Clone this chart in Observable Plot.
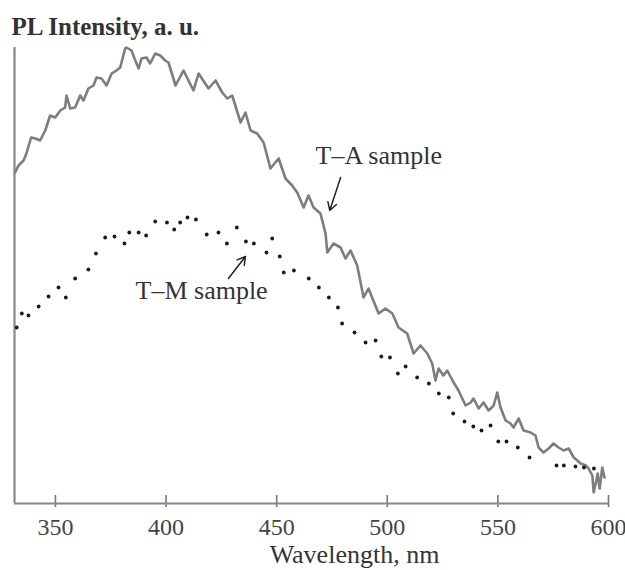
<!DOCTYPE html>
<html>
<head>
<meta charset="utf-8">
<script src="https://cdn.jsdelivr.net/npm/d3@7"></script>
<script src="https://cdn.jsdelivr.net/npm/@observablehq/plot@0.6"></script>
<style>
  html, body { margin: 0; padding: 0; background: #fff; }
  #chart { width: 625px; height: 570px; }
</style>
</head>
<body>
<div id="chart"></div>
<script>
// ---- data ----
const titleText = "PL Intensity, a. u.";
const xLabelText = "Wavelength, nm";
const xTicks = [350, 400, 450, 500, 550, 600];

// T–A sample (solid line)
const taWave = [331.8,333.3,335.6,336.9,339.0,340.9,343.1,345.4,347.6,349.9,352.2,354.4,355.0,356.7,358.9,361.2,362.7,364.9,367.2,368.6,370.8,373.1,375.4,377.6,379.3,381.5,382.1,384.4,386.1,387.6,388.9,391.2,392.8,395.1,397.4,399.6,401.1,404.3,407.9,412.4,414.7,419.2,422.4,425.4,427.7,429.9,433.7,435.9,438.2,441.2,444.1,447.2,450.9,454.0,457.0,459.3,462.2,464.4,466.7,469.8,472.1,472.9,475.7,478.9,481.1,483.4,486.4,489.3,491.5,496.1,499.2,502.3,505.1,509.0,511.9,515.0,518.1,520.3,521.8,523.2,525.4,527.1,530.0,532.2,535.4,537.7,539.0,541.3,543.5,545.8,548.1,549.7,551.2,553.5,555.7,557.1,559.4,561.6,564.8,567.0,568.4,570.6,572.9,575.2,577.4,579.7,582.0,584.3,585.9,587.4,589.7,591.0,592.7,593.3,594.5,595.1,596.0,597.2,598.2];
const taInt = [331,338,343,350,366,365,363,373,388,386,393,396,408,395,396,408,403,415,418,426,425,418,430,433,436,455,456,453,443,435,445,446,440,450,448,443,441,418,433,413,430,415,423,411,405,408,381,391,373,370,361,335,345,325,318,311,296,308,296,290,270,251,260,256,245,253,238,206,215,190,195,190,176,170,150,158,150,140,123,135,128,133,121,113,98,101,105,95,101,93,98,111,96,83,80,76,85,73,71,68,56,51,55,60,56,53,55,46,43,40,38,35,28,11,23,30,15,36,26];

// T–M sample (dotted)
const tmWave = [332.5,334.8,337.8,342.4,346.9,351.4,354.7,358.9,364.9,368.3,372.5,376.7,381.2,383.4,387.6,391.0,395.1,400.4,403.7,406.4,409.7,413.5,418.4,423.7,427.5,432.0,436.1,439.7,445.4,448.0,451.4,453.2,457.8,464.5,469.1,473.6,477.7,479.6,485.2,490.2,494.7,497.3,501.2,504.8,508.3,513.5,518.8,523.3,527.8,529.8,534.9,538.9,542.6,546.7,550.2,553.9,559.0,564.3,576.5,579.8,585.1,588.9,593.4];
const tmInt = [176,190,188,197,207,216,206,225,234,250,266,267,260,271,271,268,282,281,274,281,286,284,269,271,260,276,262,260,251,265,247,231,233,225,216,206,196,180,171,161,163,147,146,130,137,126,120,110,106,90,82,77,73,78,62,62,56,46,38,38,37,36,35];

// annotations
const noteText = ["T–A sample", "T–M sample"];
const noteWave = [467.6, 386.2];
const noteInt = [348, 213];
const arrowFromWave = [478.9, 428.2];
const arrowFromInt = [326, 225];
const arrowToWave = [474.0, 435.9];
const arrowToInt = [293, 247];

// ---- build tables ----
const ta = taWave.map((w, i) => ({w, v: taInt[i]}));
const tm = tmWave.map((w, i) => ({w, v: tmInt[i]}));
const notes = noteText.map((t, i) => ({t, w: noteWave[i], v: noteInt[i]}));
const arrows = arrowFromWave.map((w, i) => ({x1: w, y1: arrowFromInt[i], x2: arrowToWave[i], y2: arrowToInt[i]}));

const serif = "'Liberation Serif', 'DejaVu Serif', serif";

const chart = Plot.plot({
  width: 625,
  height: 570,
  marginLeft: 14,
  marginRight: 17,
  marginTop: 47,
  marginBottom: 67,
  style: {fontFamily: serif, background: "#fff", color: "#333"},
  x: {domain: [331.5, 600]},
  y: {domain: [0, 456], axis: null},
  marks: [
    Plot.axisX({ticks: xTicks, tickSize: 0, tickPadding: 14, fontSize: 24, fontFamily: serif, fill: "#444", label: null}),
    Plot.ruleX(xTicks, {x: d => d, y1: -4, y2: 8, stroke: "#777", strokeWidth: 1.6}),
    Plot.ruleY([0], {stroke: "#888", strokeWidth: 2.2}),
    Plot.ruleX([331.5], {stroke: "#888", strokeWidth: 2.2}),
    Plot.line(ta, {x: "w", y: "v", stroke: "#7d7d7d", strokeWidth: 2.6, strokeLinejoin: "round"}),
    Plot.dot(tm, {x: "w", y: "v", r: 1.9, fill: "#1a1a1a", stroke: "none"}),
    Plot.arrow(arrows, {x1: "x1", y1: "y1", x2: "x2", y2: "y2", stroke: "#222", strokeWidth: 1.5, headLength: 9}),
    Plot.text(notes, {x: "w", y: "v", text: "t", textAnchor: "start", fontSize: 26, fontFamily: serif, fill: "#333"}),
    Plot.text([titleText], {frameAnchor: "top-left", textAnchor: "start", lineAnchor: "bottom", dx: -3, dy: -13, fontSize: 25, fontWeight: "bold", fontFamily: serif, fill: "#333"}),
    Plot.text([xLabelText], {frameAnchor: "bottom", lineAnchor: "bottom", dx: 43, dy: 59, fontSize: 26, fontFamily: serif, fill: "#333"})
  ]
});
document.getElementById("chart").appendChild(chart);
</script>
</body>
</html>
